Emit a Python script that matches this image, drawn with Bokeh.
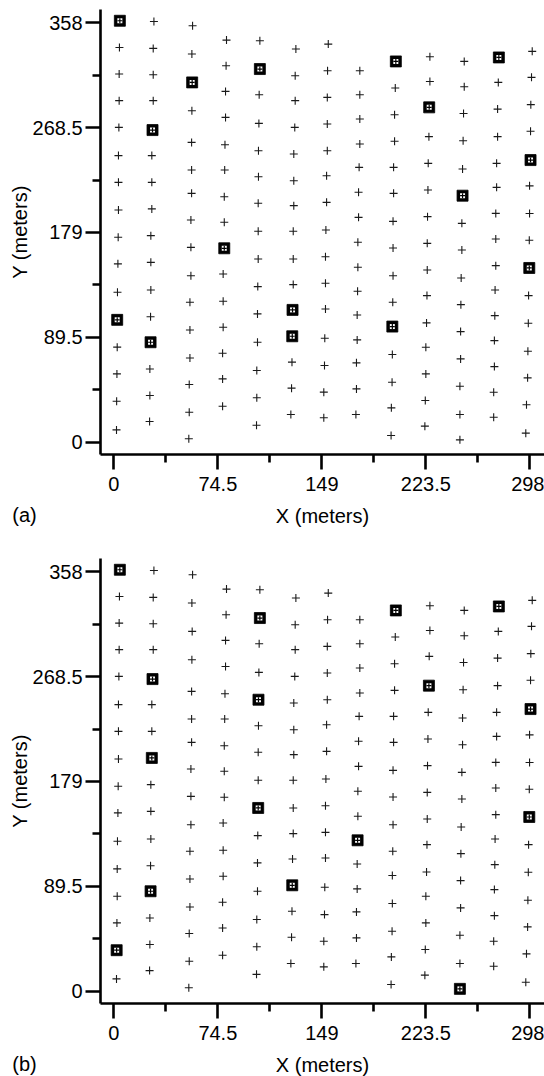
from bokeh.plotting import figure
from bokeh.layouts import column
from bokeh.models import Range1d, FixedTicker, CustomJSTickFormatter, Label
from bokeh.embed import file_html
from bokeh.resources import INLINE

# ---- sampling grid (13 transects), x and y in meters ----
X1 = [4.3, 4.0, 3.8, 3.8, 3.6, 3.3, 3.3, 3.3, 3.1, 2.9, 2.6, 2.4, 2.4, 2.2, 2.0, 1.9]
Y1 = [359.7, 336.9, 314.2, 291.5, 268.7, 244.6, 221.8, 198.2, 174.9, 152.2, 128.0, 104.4, 81.1, 58.3, 35.0, 10.5]
X2 = [28.7, 28.2, 28.2, 28.2, 27.7, 27.2, 27.2, 27.2, 26.5, 26.5, 26.5, 26.3, 26.3, 25.8, 25.8, 25.6]
Y2 = [359.1, 336.1, 313.6, 291.5, 266.4, 244.6, 221.8, 199.1, 176.3, 153.5, 129.9, 107.1, 85.3, 62.5, 39.8, 17.6]
X3 = [56.4, 55.9, 56.1, 55.9, 55.7, 55.7, 55.7, 55.2, 55.2, 55.2, 54.5, 54.5, 54.5, 54.0, 54.0, 53.7]
Y3 = [355.4, 331.3, 307.1, 282.9, 255.9, 232.3, 212.4, 189.6, 166.3, 142.1, 119.4, 95.8, 71.9, 49.2, 25.6, 2.9]
X4 = [80.7, 80.4, 80.0, 80.0, 79.6, 79.4, 79.1, 79.1, 79.1, 78.3, 78.3, 78.3, 77.9, 77.9, 77.9]
Y4 = [343.2, 321.3, 299.4, 277.2, 253.9, 232.3, 209.5, 187.7, 165.5, 143.6, 120.3, 98.1, 75.9, 54.0, 30.7]
X5 = [104.6, 104.6, 104.1, 103.9, 103.6, 103.6, 103.4, 103.4, 103.4, 103.1, 102.9, 102.9, 102.4, 102.4, 102.2]
Y5 = [342.6, 318.5, 296.6, 272.1, 248.8, 226.6, 203.9, 180.0, 156.4, 132.8, 109.5, 85.3, 61.2, 37.9, 14.4]
X6 = [130.4, 129.9, 129.9, 129.6, 128.9, 128.9, 128.9, 128.5, 128.5, 128.5, 128.0, 127.8, 127.6, 127.3, 126.8]
Y6 = [335.6, 312.8, 291.5, 268.7, 246.0, 223.2, 201.9, 180.0, 156.4, 134.5, 112.9, 90.4, 68.3, 46.1, 23.6]
X7 = [153.6, 153.1, 152.9, 152.9, 152.9, 152.4, 152.4, 151.9, 151.6, 151.6, 151.6, 151.1, 150.9, 150.4, 150.4]
Y7 = [339.8, 317.1, 294.3, 271.6, 248.8, 227.4, 204.7, 181.1, 158.3, 135.6, 113.7, 88.7, 65.4, 42.7, 20.8]
X8 = [176.2, 176.2, 176.2, 176.2, 175.7, 175.3, 175.3, 174.8, 174.8, 174.6, 174.3, 174.3, 173.8, 173.8, 173.4]
Y8 = [317.1, 296.6, 275.8, 254.5, 234.6, 213.3, 191.9, 170.6, 149.3, 128.8, 108.6, 87.3, 67.7, 45.5, 23.6]
X9 = [202.0, 201.6, 201.1, 201.1, 200.4, 200.4, 200.0, 200.0, 200.0, 199.8, 199.5, 199.5, 199.3, 198.8, 198.6]
Y9 = [325.0, 302.3, 279.5, 256.8, 234.6, 212.4, 188.5, 165.8, 142.1, 119.4, 98.7, 74.8, 51.2, 29.3, 5.7]
X10 = [226.4, 226.4, 225.9, 225.7, 225.2, 225.0, 224.7, 224.5, 224.5, 224.3, 224.0, 223.5, 223.5, 223.1, 222.8]
Y10 = [329.0, 307.9, 285.8, 260.8, 238.0, 215.2, 192.5, 169.7, 147.0, 125.1, 101.8, 81.0, 58.3, 35.6, 13.7]
X11 = [251.0, 251.0, 250.5, 250.2, 249.8, 249.8, 249.3, 249.3, 248.8, 248.6, 248.4, 248.4, 247.9, 247.9, 247.9]
Y11 = [325.0, 303.4, 280.6, 257.3, 233.2, 210.4, 186.8, 164.1, 140.2, 117.4, 94.4, 71.1, 47.8, 23.6, 2.0]
X12 = [275.8, 275.4, 274.9, 274.9, 274.2, 274.2, 273.6, 273.6, 273.6, 273.1, 272.9, 272.6, 272.6, 272.1, 272.1]
Y12 = [328.4, 307.1, 284.3, 260.8, 238.0, 217.5, 195.3, 173.4, 150.7, 129.9, 108.0, 86.7, 64.5, 42.6, 21.3]
X13 = [299.7, 299.2, 298.7, 298.5, 298.5, 297.8, 297.8, 297.6, 297.6, 297.1, 296.9, 296.6, 296.4, 295.6, 295.1]
Y13 = [333.6, 311.4, 288.1, 265.4, 240.8, 218.8, 195.2, 172.4, 148.7, 125.1, 101.5, 77.6, 54.9, 31.9, 7.7]

COLS_X = [X1, X2, X3, X4, X5, X6, X7, X8, X9, X10, X11, X12, X13]
COLS_Y = [Y1, Y2, Y3, Y4, Y5, Y6, Y7, Y8, Y9, Y10, Y11, Y12, Y13]

# ---- selected sites (transect index, point index along transect) ----
sel_a_col = [0, 0, 1, 1, 2, 3, 4, 5, 5, 8, 8, 9, 10, 11, 12, 12]
sel_a_row = [0, 11, 4, 12, 2, 8, 1, 10, 11, 0, 10, 2, 5, 0, 4, 8]
sel_b_col = [0, 0, 1, 1, 1, 4, 4, 4, 5, 7, 8, 9, 10, 11, 12, 12]
sel_b_row = [0, 14, 4, 7, 12, 1, 4, 8, 11, 9, 0, 3, 14, 0, 4, 8]

x_ticks = [0, 74.5, 149, 223.5, 298]
x_minor = [37.25, 111.75, 186.25, 260.75]
y_ticks = [0, 89.5, 179, 268.5, 358]
y_minor = [44.75, 134.25, 223.75, 313.25]

FONT = "Liberation Sans"

all_x = [v for c in COLS_X for v in c]
all_y = [v for c in COLS_Y for v in c]

# axis extents (data units) of the plotting box
X_LO, X_HI = -9.5, 308.5
Y_LO, Y_HI = -10.1, 369.4


def make_panel(tag, sel_col, sel_row, height, y_bottom):
    p = figure(width=544, height=height, output_backend="svg", toolbar_location=None,
               x_range=Range1d(-81.2, 308.5), y_range=Range1d(y_bottom, 377.0),
               min_border=0)
    p.outline_line_color = None
    p.grid.visible = False
    p.background_fill_color = "white"
    p.border_fill_color = "white"

    fmt = CustomJSTickFormatter(code="return tick.toString();")
    for ax, ticks, minor in ((p.xaxis[0], x_ticks, x_minor), (p.yaxis[0], y_ticks, y_minor)):
        ax.ticker = FixedTicker(ticks=ticks, minor_ticks=minor)
        ax.formatter = fmt
        ax.axis_line_width = 2.6
        ax.major_tick_line_width = 2.6
        ax.minor_tick_line_width = 2.6
        ax.major_tick_in = 0
        ax.minor_tick_in = 0
        ax.major_tick_out = 15
        ax.minor_tick_out = 8
        ax.axis_line_color = "black"
        ax.major_tick_line_color = "black"
        ax.minor_tick_line_color = "black"
        ax.major_label_text_font = FONT
        ax.major_label_text_font_size = "20px"
        ax.major_label_text_color = "black"
        ax.axis_label_text_font = FONT
        ax.axis_label_text_font_size = "20px"
        ax.axis_label_text_font_style = "normal"
        ax.axis_label_text_color = "black"
    p.xaxis.fixed_location = Y_LO
    p.xaxis.bounds = (X_LO, X_HI)
    p.yaxis.fixed_location = X_LO
    p.yaxis.bounds = (Y_LO, Y_HI)
    p.xaxis.axis_label = "X (meters)"
    p.yaxis.axis_label = "Y (meters)"
    p.xaxis.major_label_standoff = 8
    p.yaxis.major_label_standoff = 3
    p.xaxis.axis_label_standoff = 10
    p.yaxis.axis_label_standoff = -2

    p.scatter(all_x, all_y, marker="cross", size=8, line_color="#1a1a1a", line_width=1.1)

    sx = [COLS_X[c][r] for c, r in zip(sel_col, sel_row)]
    sy = [COLS_Y[c][r] for c, r in zip(sel_col, sel_row)]
    p.scatter(sx, sy, marker="square", size=11, fill_color="black", line_color="black", line_width=0.8)
    p.scatter(sx, sy, marker="square", size=5, fill_color="white", line_color=None)
    p.scatter(sx, sy, marker="cross", size=5, line_color="black", line_width=1.2)

    p.add_layout(Label(x=-72.8, y=-62.1, text=tag,
                       text_font=FONT, text_font_size="20px",
                       text_baseline="middle", text_align="left", text_color="black"))
    return p


pa = make_panel("(a)", sel_a_col, sel_a_row, 549, -91.6)
pb = make_panel("(b)", sel_b_col, sel_b_row, 527, -72.8)

layout = column(pa, pb, spacing=0)
open("out.html", "w").write(file_html(layout, INLINE))
